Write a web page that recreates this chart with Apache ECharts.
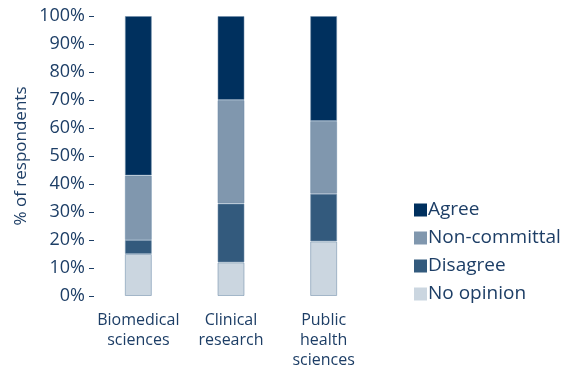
<!DOCTYPE html>
<html>
<head>
<meta charset="utf-8">
<script src="https://cdn.jsdelivr.net/npm/echarts@6/dist/echarts.min.js"></script>
<style>
  html, body { margin: 0; padding: 0; background: #fff; }
  #chart { width: 570px; height: 366px; }
</style>
</head>
<body>
<div id="chart"></div>
<script>
// Survey response shares by research field (percent of respondents)
const categories = ['Biomedical\nsciences', 'Clinical\nresearch', 'Public\nhealth\nsciences'];
const noOpinion = [15, 12, 19.5];
const disagree = [5, 21, 17];
const nonCommittal = [23, 37, 26];
const agree = [57, 30, 37.5];
const yTicks = [0, 10, 20, 30, 40, 50, 60, 70, 80, 90, 100];

const textColor = '#1d3e66';
const font = 'Open Sans';

const chart = echarts.init(document.getElementById('chart'));

function bar(name, data, color) {
  return {
    name: name,
    type: 'bar',
    stack: 'total',
    data: data,
    barWidth: 27,
    itemStyle: { color: color, borderColor: 'rgba(110,140,170,0.55)', borderWidth: 1 },
    emphasis: { disabled: true }
  };
}

chart.setOption({
  animation: false,
  textStyle: { fontFamily: font },
  grid: { left: 92, right: 200, top: 16, bottom: 70, containLabel: false, outerBoundsMode: 'none' },
  legend: {
    orient: 'vertical',
    left: 414,
    top: 200,
    padding: 0,
    icon: 'rect',
    itemWidth: 13,
    itemHeight: 13,
    itemGap: 8,
    itemStyle: { borderWidth: 0 },
    data: ['Agree', 'Non-committal', 'Disagree', 'No opinion'],
    textStyle: { color: textColor, fontSize: 19, lineHeight: 20, fontFamily: font, padding: [0, 0, 0, -4] }
  },
  xAxis: {
    type: 'category',
    data: categories,
    axisLine: { show: false },
    axisTick: { show: false },
    axisLabel: {
      interval: 0,
      color: textColor,
      fontSize: 16,
      lineHeight: 20,
      margin: 14,
      fontFamily: font
    }
  },
  yAxis: {
    type: 'value',
    min: 0,
    max: 100,
    interval: 10,
    offset: -2,
    name: '% of respondents',
    nameLocation: 'middle',
    nameGap: 64,
    nameTextStyle: { color: textColor, fontSize: 17, fontFamily: font },
    axisLine: { show: false },
    axisTick: { show: true, length: 5, lineStyle: { color: textColor, width: 1 } },
    splitLine: { show: false },
    axisLabel: {
      color: textColor,
      fontSize: 18,
      margin: 9,
      fontFamily: font,
      formatter: function (v) { return yTicks.indexOf(v) >= 0 ? v + '%' : ''; }
    }
  },
  series: [
    bar('No opinion', noOpinion, '#cbd6e0'),
    bar('Disagree', disagree, '#335a7d'),
    bar('Non-committal', nonCommittal, '#8097ae'),
    bar('Agree', agree, '#00305e')
  ]
});
</script>
</body>
</html>
